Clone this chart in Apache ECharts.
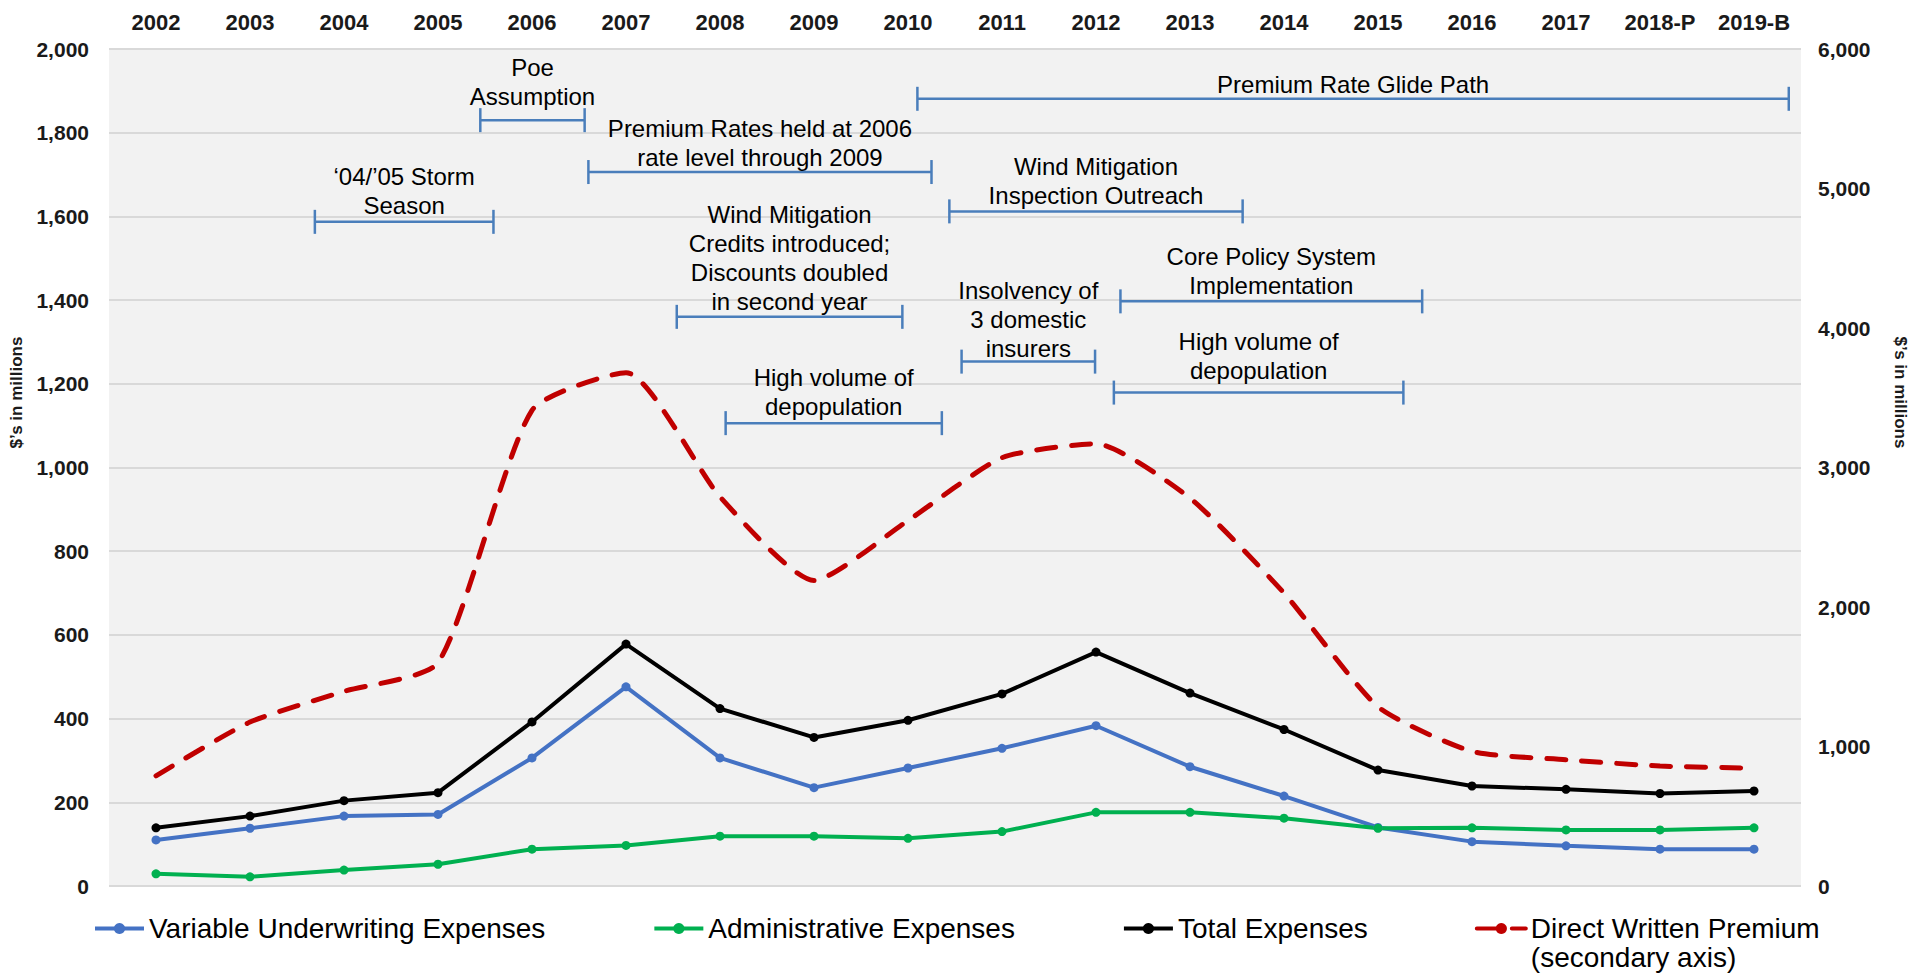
<!DOCTYPE html>
<html>
<head>
<meta charset="utf-8">
<script src="https://cdn.jsdelivr.net/npm/echarts@6/dist/echarts.min.js"></script>
<style>
  html, body { margin: 0; padding: 0; background: #fff; }
  #main { width: 1917px; height: 977px; }
</style>
</head>
<body>
<div id="main"></div>
<script>
// categories (top axis)
const years = ['2002', '2003', '2004', '2005', '2006', '2007', '2008', '2009', '2010',
  '2011', '2012', '2013', '2014', '2015', '2016', '2017', '2018-P', '2019-B'];

// $ millions, left axis
const variableUW = [110, 138, 167, 171, 306, 476, 306, 235, 282, 329, 383, 285, 215, 140, 106, 96, 88, 88];
const adminExp = [29, 22, 38, 52, 88, 97, 119, 119, 114, 130, 176, 176, 162, 138, 139, 134, 134, 139];
const totalExp = [139, 167, 204, 223, 392, 578, 424, 355, 396, 459, 559, 461, 374, 277, 239, 231, 221, 227];
// $ millions, right axis
const premium = [790, 1175, 1395, 1600, 3410, 3680, 2790, 2190, 2620, 3070, 3170, 2780, 2100, 1285, 965, 905, 860, 845];

// event brackets: from/to in year index, level and text base on the left axis
const noteText = [
  'Premium Rate Glide Path',
  'Poe\nAssumption',
  '\u201804/\u201905 Storm\nSeason',
  'Premium Rates held at 2006\nrate level through 2009',
  'Wind Mitigation\nInspection Outreach',
  'Wind Mitigation\nCredits introduced;\nDiscounts doubled\nin second year',
  'High volume of\ndepopulation',
  'Insolvency of\n3 domestic\ninsurers',
  'Core Policy System\nImplementation',
  'High volume of\ndepopulation'
];
const noteFrom = [8.1, 3.45, 1.69, 4.6, 8.44, 5.54, 6.06, 8.57, 10.26, 10.19];
const noteTo = [17.37, 4.56, 3.59, 8.25, 11.56, 7.94, 8.36, 9.99, 13.47, 13.27];
const noteLevel = [1881, 1830, 1587, 1706, 1612, 1360, 1106, 1253, 1397, 1179];
const noteBase = [1880, 1852, 1592, 1706, 1616, 1362, 1110, 1250, 1400, 1197];

const font = '"Liberation Sans", Arial, sans-serif';
const bracketColor = '#4A7EBB';

var myChart = echarts.init(document.getElementById('main'), null, { renderer: 'svg' });

const noteRows = noteText.map(function (t, i) {
  return [noteFrom[i], noteTo[i], noteLevel[i], noteBase[i]];
});

function renderNote(params, api) {
  const i = params.dataIndex;
  const a = api.coord([api.value(0), api.value(2)]);
  const b = api.coord([api.value(1), api.value(2)]);
  const t = api.coord([(api.value(0) + api.value(1)) / 2, api.value(3)]);
  const st = { stroke: bracketColor, lineWidth: 2.5 };
  return {
    type: 'group',
    children: [
      { type: 'line', shape: { x1: a[0], y1: a[1], x2: b[0], y2: b[1] }, style: st },
      { type: 'line', shape: { x1: a[0], y1: a[1] - 12, x2: a[0], y2: a[1] + 12 }, style: st },
      { type: 'line', shape: { x1: b[0], y1: b[1] - 12, x2: b[0], y2: b[1] + 12 }, style: st },
      {
        type: 'text', x: t[0], y: t[1],
        style: {
          text: noteText[i], fill: '#000', fontSize: 24, fontFamily: font,
          lineHeight: 29, align: 'center', verticalAlign: 'bottom'
        }
      }
    ]
  };
}

const lineSeries = function (name, data, color) {
  return {
    name: name,
    type: 'line',
    data: data,
    symbol: 'circle',
    symbolSize: 9,
    itemStyle: { color: color },
    lineStyle: { color: color, width: 4 }
  };
};

var option = {
  animation: false,
  backgroundColor: '#fff',
  textStyle: { fontFamily: font },
  grid: {
    left: 107, right: 105, top: 49, bottom: 91,
    show: true, backgroundColor: '#F2F2F2', borderWidth: 0
  },
  legend: {
    left: 88,
    top: 880,
    itemWidth: 49,
    itemHeight: 14,
    itemGap: 107,
    lineStyle: { width: 4 },
    textStyle: { fontSize: 28, color: '#000', fontFamily: font, lineHeight: 29 },
    formatter: function (name) {
      // blank first line keeps the main line level with the icon
      return name === 'Direct Written Premium' ? ' \n' + name + '\n(secondary axis)' : name;
    },
    data: [
      'Variable Underwriting Expenses',
      'Administrative Expenses',
      'Total Expenses',
      'Direct Written Premium'
    ]
  },
  xAxis: [
    {
      type: 'category',
      position: 'top',
      data: years,
      axisLine: { show: false },
      axisTick: { show: false },
      axisLabel: { fontSize: 22, fontWeight: 'bold', color: '#1a1a1a', margin: 16, interval: 0 }
    },
    { type: 'value', min: -0.5, max: 17.5, show: false }
  ],
  yAxis: [
    {
      type: 'value', min: 0, max: 2000, interval: 200,
      name: '$\u2019s in millions',
      nameLocation: 'middle',
      nameGap: 84,
      nameTextStyle: { fontSize: 17, fontWeight: 'bold', color: '#1a1a1a', padding: [0, 0, 0, 150] },
      axisLine: { show: false },
      axisTick: { show: false },
      axisLabel: { fontSize: 21, fontWeight: 'bold', color: '#1a1a1a', margin: 20 },
      splitLine: { lineStyle: { color: '#D9D9D9', width: 2 } }
    },
    {
      type: 'value', min: 0, max: 6000, interval: 1000,
      name: '$\u2019s in millions',
      nameLocation: 'middle',
      nameRotate: -90,
      nameGap: 91,
      nameTextStyle: { fontSize: 17, fontWeight: 'bold', color: '#1a1a1a', padding: [0, 150, 0, 0] },
      axisLine: { show: false },
      axisTick: { show: false },
      axisLabel: { fontSize: 21, fontWeight: 'bold', color: '#1a1a1a', margin: 17 },
      splitLine: { show: false }
    }
  ],
  series: [
    lineSeries('Variable Underwriting Expenses', variableUW, '#4472C4'),
    lineSeries('Administrative Expenses', adminExp, '#00B050'),
    lineSeries('Total Expenses', totalExp, '#000000'),
    {
      name: 'Direct Written Premium',
      type: 'line',
      yAxisIndex: 1,
      data: premium,
      smooth: 0.2,
      showSymbol: false,
      symbol: 'none',
      itemStyle: { color: '#C00000' },
      lineStyle: { color: '#C00000', width: 5, type: [19, 16], cap: 'round' }
    },
    {
      type: 'custom',
      xAxisIndex: 1,
      yAxisIndex: 0,
      silent: true,
      data: noteRows,
      encode: { x: [0, 1], y: [2, 3] },
      renderItem: renderNote
    }
  ]
};

myChart.setOption(option);
</script>
</body>
</html>
